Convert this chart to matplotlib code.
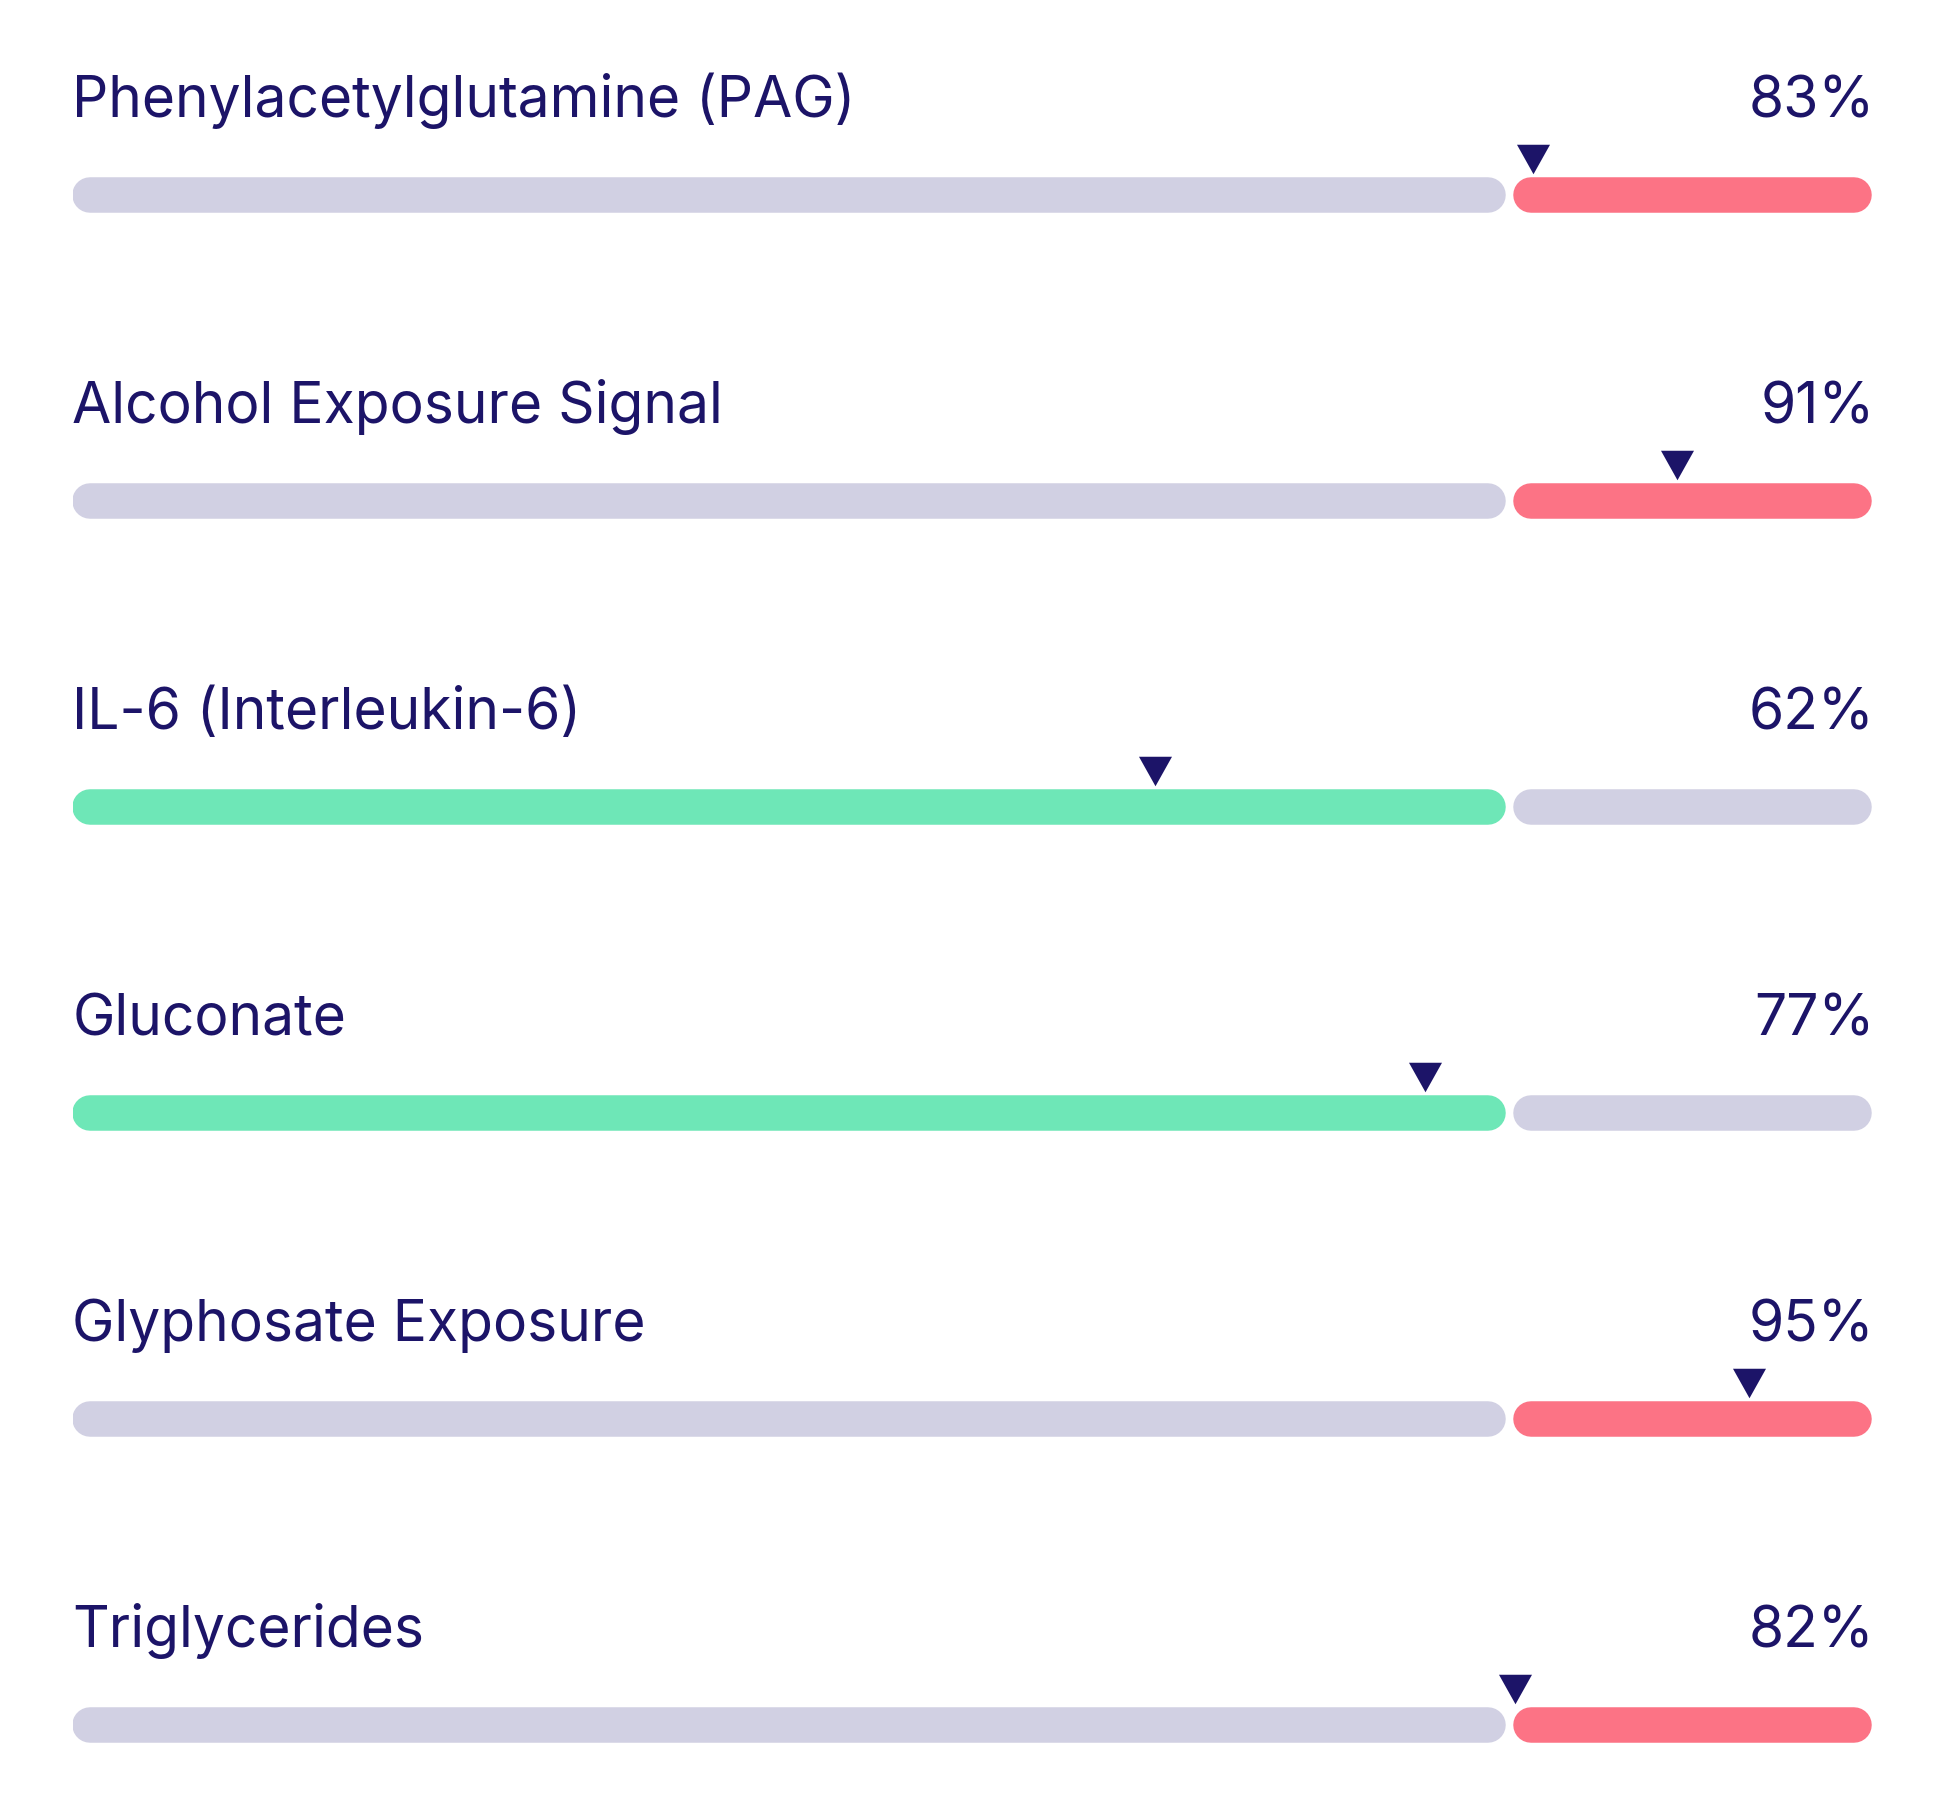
import matplotlib
matplotlib.use("Agg")
import matplotlib.pyplot as plt

# biomarker rows, top to bottom
markers = ["Phenylacetylglutamine (PAG)",
           "Alcohol Exposure Signal",
           "IL-6 (Interleukin-6)",
           "Gluconate",
           "Glyphosate Exposure",
           "Triglycerides"]
percentiles = [83, 91, 62, 77, 95, 82]
threshold = 80   # split between normal zone and elevated zone

# colours
NAVY = "#1C1468"
GRAY = "#D1D0E3"
RED = "#FC7385"
GREEN = "#6EE7B7"

W, H = 1944, 1800
DPI = 100
X0, X1 = 72.5, 1871.5          # bar extent in pixels
ROW0, ROW_STEP = 195, 306      # row centre of first bar, spacing
BAR_H = 35.5                   # bar thickness (px)
GAP = 7                        # gap between the two segments (px)
TRI_W, TRI_H = 33, 29.5
MARKER_SHIFT = 33              # marker drawn slightly left of the value (px)
FS = 41

px_per_unit = (X1 - X0) / 100.0
px2pt = 72.0 / DPI

plt.rcParams['font.family'] = ['Inter', 'DejaVu Sans']

fig = plt.figure(figsize=(W / DPI, H / DPI), dpi=DPI)
ax = fig.add_axes([X0 / W, 0, (X1 - X0) / W, 1])
ax.set_xlim(0, 100)
ax.set_ylim(H, 0)
ax.axis("off")

r = BAR_H / 2 / px_per_unit       # cap radius in x units
gap_u = GAP / px_per_unit
split_l = threshold * (100 - gap_u) / 100
split_r = split_l + gap_u
tri = [(-TRI_W / 2, TRI_H / 2), (TRI_W / 2, TRI_H / 2), (0, -TRI_H / 2)]

for i, (name, val) in enumerate(zip(markers, percentiles)):
    y = ROW0 + i * ROW_STEP
    if val >= threshold:
        left_c, right_c = GRAY, RED
    else:
        left_c, right_c = GREEN, GRAY
    ax.plot([0 + r, split_l - r], [y, y], color=left_c,
            lw=BAR_H * px2pt, solid_capstyle="round")
    ax.plot([split_r + r, 100 - r], [y, y], color=right_c,
            lw=BAR_H * px2pt, solid_capstyle="round")

    # value marker
    ty = y - BAR_H / 2 - 4 - TRI_H / 2
    ax.plot(val - MARKER_SHIFT / px_per_unit, ty, marker=tri, color=NAVY,
            markersize=TRI_W * px2pt, markeredgewidth=0, linestyle="none")

    ax.text(0, y - 78, name, color=NAVY, fontsize=FS, ha="left", va="baseline")
    ax.text(100 + 3 / px_per_unit, y - 78, f"{val}%", color=NAVY, fontsize=FS,
            ha="right", va="baseline")

fig.savefig("out.png", dpi=DPI, facecolor="white")
